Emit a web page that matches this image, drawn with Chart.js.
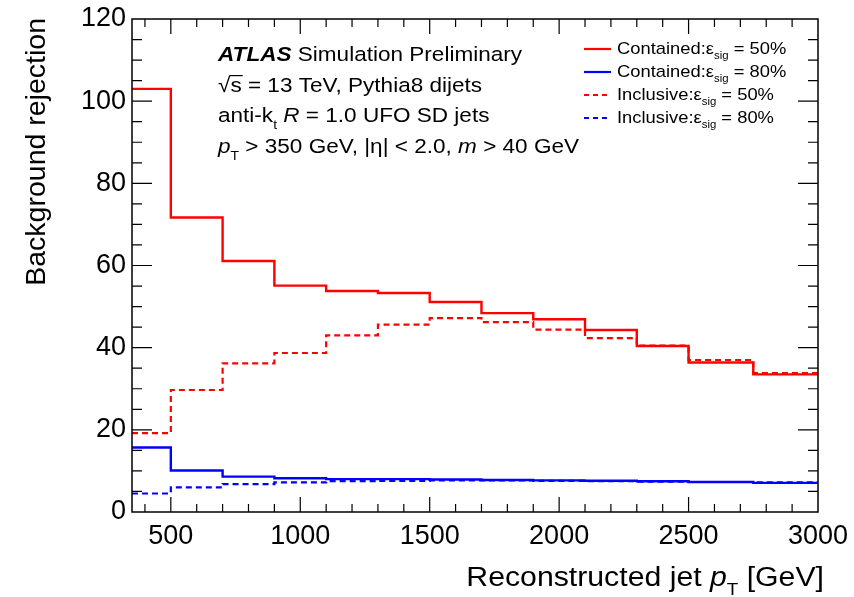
<!DOCTYPE html>
<html>
<head>
<meta charset="utf-8">
<script src="https://cdn.jsdelivr.net/npm/chart.js@4.4.1/dist/chart.umd.min.js"></script>
<style>
  html, body { margin: 0; padding: 0; background: #fff; }
  #wrap { width: 854px; height: 597px; }
</style>
</head>
<body>
<div id="wrap"><canvas id="c" width="854" height="597"></canvas></div>
<script>
// bin edges in reconstructed jet pT [GeV]
const binEdges = [350, 500, 700, 900, 1100, 1300, 1500, 1700, 1900, 2100, 2300, 2500, 2750, 3000];

// background rejection per bin
const containedSig50 = [103.0, 71.7, 61.1, 55.1, 53.8, 53.3, 51.1, 48.4, 46.9, 44.3, 40.4, 36.4, 33.5];
const containedSig80 = [15.7, 10.1, 8.6, 8.2, 8.0, 8.0, 7.9, 7.8, 7.7, 7.6, 7.5, 7.3, 7.1];
const inclusiveSig50 = [19.2, 29.7, 36.2, 38.7, 43.0, 45.6, 47.2, 46.2, 44.4, 42.3, 40.5, 37.0, 33.8];
const inclusiveSig80 = [4.5, 6.0, 6.8, 7.2, 7.5, 7.6, 7.7, 7.7, 7.6, 7.5, 7.4, 7.3, 7.2];

const xTickValues = [500, 1000, 1500, 2000, 2500, 3000];
const yTickValues = [0, 20, 40, 60, 80, 100, 120];

const FONT = "'Liberation Sans', Arial, Helvetica, sans-serif";

// histogram -> points at low edges, last point repeated at upper edge
function toSteps(vals) {
    const pts = vals.map((v, i) => ({ x: binEdges[i], y: v }));
    pts.push({ x: binEdges[binEdges.length - 1], y: vals[vals.length - 1] });
    return pts;
}

function ds(label, vals, color, dashed) {
    return {
        label: label,
        data: toSteps(vals),
        borderColor: color,
        borderWidth: dashed ? 2.2 : 2.4,
        borderDash: dashed ? [6, 4] : [],
        stepped: 'before',
        pointRadius: 0,
        fill: false
    };
}

// draws mixed text pieces: {t, i (italic), b (bold), sub, over}; sx = horizontal stretch
function drawRich(ctx, x, y, parts, size, sx) {
    sx = sx || 1;
    ctx.save();
    ctx.translate(x, y);
    ctx.scale(sx, 1);
    let cx = 0;
    parts.forEach(p => {
        const s = p.sub ? size * 0.62 : size;
        ctx.font = (p.i ? 'italic ' : '') + (p.b ? 'bold ' : '') + s + 'px ' + FONT;
        const dy = p.sub ? size * 0.32 : 0;
        ctx.fillText(p.t, cx, dy);
        const w = ctx.measureText(p.t).width;
        if (p.over) {
            ctx.lineWidth = 1.2;
            ctx.beginPath();
            ctx.moveTo(cx - 1, -size * 0.8);
            ctx.lineTo(cx + w + 1, -size * 0.8);
            ctx.stroke();
        }
        cx += w;
    });
    ctx.restore();
    return cx * sx;
}

function richWidth(ctx, parts, size, sx) {
    let w = 0;
    parts.forEach(p => {
        ctx.font = (p.i ? 'italic ' : '') + (p.b ? 'bold ' : '') + (p.sub ? size * 0.62 : size) + 'px ' + FONT;
        w += ctx.measureText(p.t).width;
    });
    return w * (sx || 1);
}

// frame + ROOT style inward ticks + text labels
const rootStyle = {
    id: 'rootStyle',
    afterDraw(chart) {
        const ctx = chart.ctx;
        const a = chart.chartArea;
        const xs = chart.scales.x, ys = chart.scales.y;
        ctx.save();
        ctx.strokeStyle = '#000';
        ctx.fillStyle = '#000';
        ctx.lineWidth = 1.5;
        ctx.strokeRect(a.left, a.top, a.right - a.left, a.bottom - a.top);

        ctx.lineWidth = 1.2;
        ctx.beginPath();
        for (let v = 400; v < 3000; v += 100) {
            const px = xs.getPixelForValue(v);
            const len = v % 500 === 0 ? 15 : 8;
            ctx.moveTo(px, a.bottom); ctx.lineTo(px, a.bottom - len);
            ctx.moveTo(px, a.top); ctx.lineTo(px, a.top + len);
        }
        for (let v = 5; v < 120; v += 5) {
            const py = ys.getPixelForValue(v);
            const len = v % 20 === 0 ? 20 : 10;
            ctx.moveTo(a.left, py); ctx.lineTo(a.left + len, py);
            ctx.moveTo(a.right, py); ctx.lineTo(a.right - len, py);
        }
        ctx.stroke();

        // axis titles
        ctx.textBaseline = 'alphabetic';
        ctx.save();
        ctx.translate(45, 18);
        ctx.rotate(-Math.PI / 2);
        ctx.textAlign = 'right';
        ctx.font = '28.5px ' + FONT;
        ctx.fillText('Background rejection', 0, 0);
        ctx.restore();

        ctx.textAlign = 'left';
        const xt = [{ t: 'Reconstructed jet ' }, { t: 'p', i: true }, { t: 'T', sub: true }, { t: ' [GeV]' }];
        const xsx = 1.12;
        drawRich(ctx, 824 - richWidth(ctx, xt, 27, xsx), 586, xt, 27, xsx);

        // label block
        const tx = 218, ts = 20.5, tsx = 1.1;
        drawRich(ctx, tx, 61, [{ t: 'ATLAS', b: true, i: true }, { t: ' Simulation Preliminary' }], ts, tsx);
        drawRich(ctx, tx, 92, [{ t: '√' }, { t: 's', over: true }, { t: ' = 13 TeV, Pythia8 dijets' }], ts, tsx);
        drawRich(ctx, tx, 122, [{ t: 'anti-k' }, { t: 't', sub: true }, { t: ' ' }, { t: 'R', i: true }, { t: ' = 1.0 UFO SD jets' }], ts, tsx);
        drawRich(ctx, tx, 153, [{ t: 'p', i: true }, { t: 'T', sub: true }, { t: ' > 350 GeV, |η| < 2.0, ' }, { t: 'm', i: true }, { t: ' > 40 GeV' }], ts, tsx);

        // legend
        const legend = [
            ['Contained:', '50%', '#ff0000', false],
            ['Contained:', '80%', '#0000ff', false],
            ['Inclusive:', '50%', '#ff0000', true],
            ['Inclusive:', '80%', '#0000ff', true]
        ];
        const rows = [54, 77, 100, 123];
        legend.forEach((l, i) => {
            const y = rows[i];
            ctx.save();
            ctx.strokeStyle = l[2];
            ctx.lineWidth = 2.2;
            ctx.setLineDash(l[3] ? [5, 4] : []);
            ctx.beginPath();
            ctx.moveTo(584, y - 5); ctx.lineTo(611, y - 5);
            ctx.stroke();
            ctx.restore();
            drawRich(ctx, 617, y, [{ t: l[0] }, { t: 'ε' }, { t: 'sig', sub: true }, { t: ' = ' + l[1] }], 17, 1.08);
        });
        ctx.restore();
    }
};

new Chart(document.getElementById('c').getContext('2d'), {
    type: 'line',
    data: {
        datasets: [
            ds('Contained 50%', containedSig50, '#ff0000', false),
            ds('Contained 80%', containedSig80, '#0000ff', false),
            ds('Inclusive 50%', inclusiveSig50, '#ff0000', true),
            ds('Inclusive 80%', inclusiveSig80, '#0000ff', true)
        ]
    },
    options: {
        responsive: false,
        animation: false,
        layout: { padding: { left: 0, right: 36, top: 19, bottom: 0 } },
        plugins: { legend: { display: false }, tooltip: { enabled: false } },
        scales: {
            x: {
                type: 'linear',
                min: 350, max: 3000,
                border: { display: false },
                grid: { display: false, drawTicks: false },
                afterFit: s => { s.height = 85; s.paddingLeft = 0; s.paddingRight = 0; },
                afterBuildTicks: s => {
                    s.ticks = xTickValues.map(v => ({ value: v }));
                },
                ticks: {
                    autoSkip: false, maxRotation: 0, padding: 8,
                    color: '#000',
                    font: { family: FONT, size: 27 },
                    callback: v => String(v)
                }
            },
            y: {
                min: 0, max: 120,
                border: { display: false },
                grid: { display: false, drawTicks: false },
                afterFit: s => { s.width = 132; s.paddingTop = 0; s.paddingBottom = 0; },
                afterBuildTicks: s => {
                    s.ticks = yTickValues.map(v => ({ value: v }));
                },
                ticks: {
                    padding: 6,
                    color: '#000',
                    font: { family: FONT, size: 27 },
                    callback: v => String(v)
                }
            }
        }
    },
    plugins: [rootStyle]
});
</script>
</body>
</html>
